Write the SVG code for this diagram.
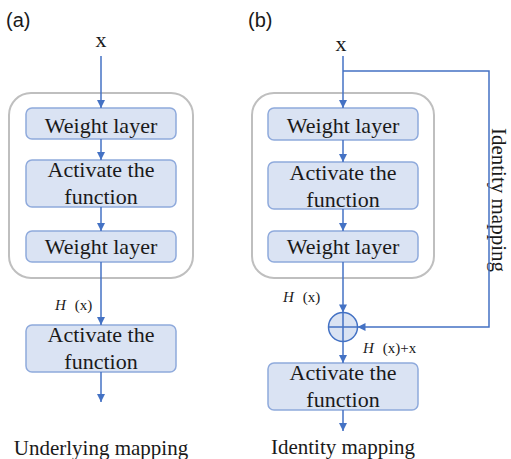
<svg xmlns="http://www.w3.org/2000/svg" width="511" height="459" viewBox="0 0 511 459">
<defs>
<marker id="arr" markerUnits="userSpaceOnUse" markerWidth="10" markerHeight="10" viewBox="0 0 10 10" refX="9" refY="5" orient="auto">
<path d="M1,1 L9,5 L1,9 Z" fill="#4472c4"/>
</marker>
</defs>
<style>
.outer{fill:#fff;stroke:#bfbfbf;stroke-width:2}
.box{fill:#dae3f3;stroke:#8faadc;stroke-width:1.5}
.bt{font-family:"Liberation Serif","Times New Roman",serif;font-size:22px;fill:#1a1a1a;text-anchor:middle}
.cap{font-family:"Liberation Serif","Times New Roman",serif;font-size:21px;fill:#1a1a1a}
.lab{font-family:"Liberation Sans",Arial,sans-serif;font-size:20px;fill:#1a1a1a}
.hx{font-family:"Liberation Serif","Times New Roman",serif;font-size:15px;fill:#1a1a1a}
.ln{fill:none;stroke:#4472c4;stroke-width:1.5}
.ar{fill:none;stroke:#4472c4;stroke-width:1.5;marker-end:url(#arr)}
</style>

<text class="lab" x="6" y="27">(a)</text>
<text class="lab" x="248" y="27">(b)</text>

<g id="panel-a">
<rect id="a-outer" class="outer" x="9" y="93" width="184" height="185" rx="22"/>
<text id="a-x" class="bt" x="101" y="47">x</text>
<g id="a-w1"><rect class="box" x="26" y="108" width="150" height="31" rx="6"/><text class="bt" x="101" y="133">Weight layer</text></g>
<g id="a-act1"><rect class="box" x="26" y="160" width="150" height="47" rx="6"/><text class="bt" x="101" y="177">Activate the</text><text class="bt" x="101" y="204">function</text></g>
<g id="a-w2"><rect class="box" x="26" y="231" width="150" height="31" rx="6"/><text class="bt" x="101" y="254">Weight layer</text></g>
<g id="a-act2"><rect class="box" x="26" y="325" width="150" height="47" rx="6"/><text class="bt" x="101" y="342">Activate the</text><text class="bt" x="101" y="369">function</text></g>
<text class="hx" x="55" y="310"><tspan font-style="italic">H</tspan><tspan dx="9">(x)</tspan></text>
<text class="cap" x="101" y="455" text-anchor="middle">Underlying mapping</text>
</g>

<g id="panel-b">
<rect id="b-outer" class="outer" x="252" y="93" width="182" height="185" rx="22"/>
<text id="b-x" class="bt" x="341" y="51">x</text>
<g id="b-w1"><rect class="box" x="268" y="108" width="150" height="32" rx="6"/><text class="bt" x="343" y="133">Weight layer</text></g>
<g id="b-act1"><rect class="box" x="268" y="162" width="150" height="47" rx="6"/><text class="bt" x="343" y="180">Activate the</text><text class="bt" x="343" y="207">function</text></g>
<g id="b-w2"><rect class="box" x="268" y="231" width="150" height="31" rx="6"/><text class="bt" x="343" y="254">Weight layer</text></g>
<g id="b-sum"><circle cx="343" cy="327" r="14.5" fill="#dae3f3" stroke="#4472c4" stroke-width="1.5"/><path class="ln" d="M343,312.5 V341.5 M328.5,327 H357.5"/></g>
<g id="b-act2"><rect class="box" x="268" y="363" width="150" height="47" rx="6"/><text class="bt" x="343" y="380">Activate the</text><text class="bt" x="343" y="407">function</text></g>
<text class="hx" x="283" y="302"><tspan font-style="italic">H</tspan><tspan dx="9">(x)</tspan></text>
<text class="hx" x="363" y="353"><tspan font-style="italic">H</tspan><tspan dx="9">(x)+x</tspan></text>
<text class="cap" x="343" y="454" text-anchor="middle">Identity mapping</text>
<text class="cap" transform="translate(492,200) rotate(90)" text-anchor="middle">Identity mapping</text>
</g>

<g id="connectors">
<path class="ar" d="M101,56 V108"/>
<path class="ar" d="M101,139 V160"/>
<path class="ar" d="M101,207 V231"/>
<path class="ar" d="M101,262 V325"/>
<path class="ar" d="M101,372 V402"/>
<path class="ar" d="M343,56 V108"/>
<path class="ar" d="M343,140 V162"/>
<path class="ar" d="M343,209 V231"/>
<path class="ar" d="M343,262 V312.5"/>
<path class="ar" d="M343,341.5 V363"/>
<path class="ar" d="M343,410 V431"/>
<path class="ar" d="M343,71 H489 V327 H357.5"/>
</g>
</svg>
